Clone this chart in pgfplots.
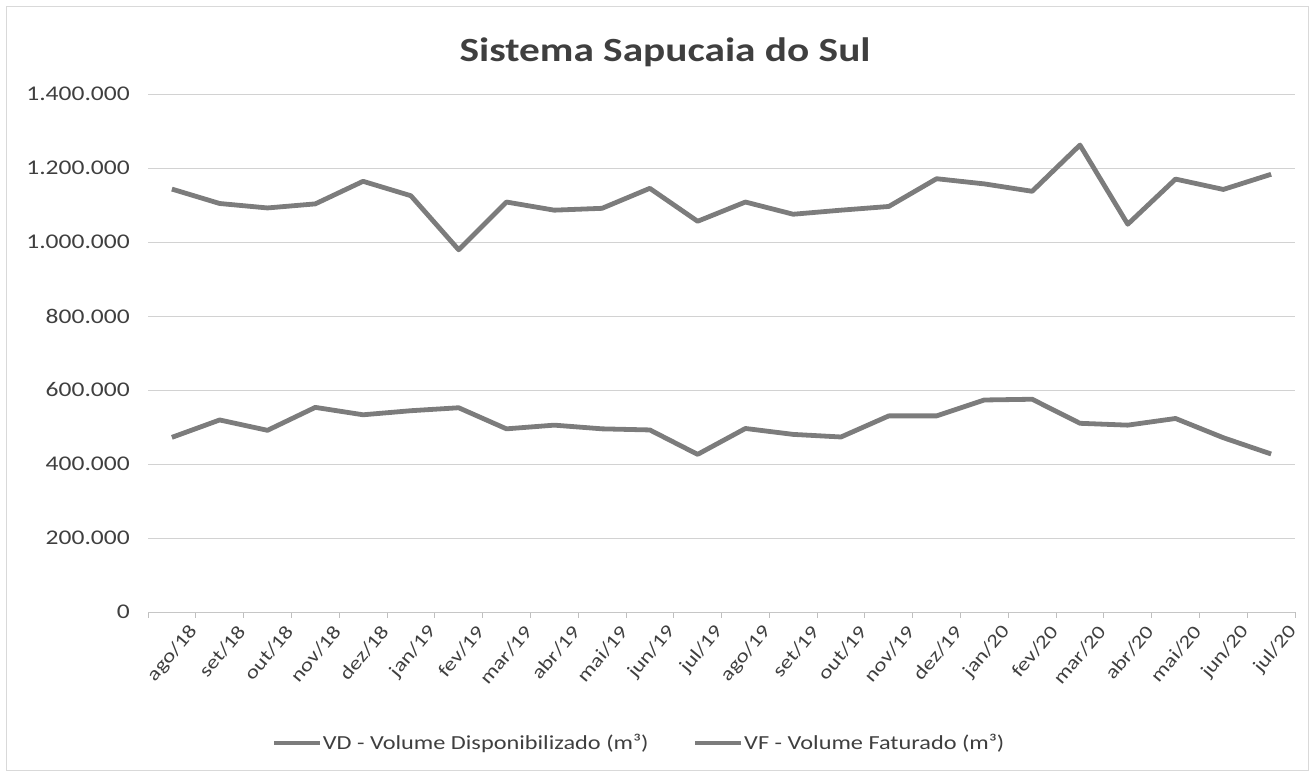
\documentclass[border=0pt]{standalone}
\usepackage{fontspec}
\setmainfont{Carlito}[FakeStretch=1.22]
\usepackage{pgfplots}
\usepackage{pgfplotstable}
\pgfplotsset{compat=1.18}
\definecolor{serie}{HTML}{7C7C7C}
\definecolor{gridc}{HTML}{D2D2D2}
\definecolor{txt}{HTML}{3F3F3F}
\pgfplotstableread{
idx vd vf
0 1143000 472000
1 1104000 519000
2 1092000 491000
3 1103000 553000
4 1164000 533000
5 1125000 544000
6 979000 552000
7 1108000 495000
8 1086000 505000
9 1091000 495000
10 1145000 492000
11 1056000 426000
12 1108000 496000
13 1075000 480000
14 1086000 473000
15 1096000 530000
16 1171000 530000
17 1157000 573000
18 1137000 575000
19 1262000 510000
20 1048000 505000
21 1170000 523000
22 1142000 471000
23 1183000 427000
}\datatable
\begin{document}
\begin{tikzpicture}[x=1bp,y=1bp]
\useasboundingbox (0,0) rectangle (1314,776);
\draw[gray!30, line width=0.8bp] (6,6) rectangle (1308,770);
\node[anchor=base, font=\fontsize{34}{40}\selectfont\bfseries, text=txt] at (665,714) {Sistema Sapucaia do Sul};
\begin{axis}[
  at={(148bp,164bp)}, anchor=south west,
  scale only axis, width=1147bp, height=518bp,
  xmin=-0.5, xmax=23.5, ymin=0, ymax=1400000,
  axis lines*=left,
  x axis line style={draw=gray!45, line width=0.8bp, -},
  y axis line style={draw=none},
  xtick={0,...,23},
  xticklabels={ago/18,set/18,out/18,nov/18,dez/18,jan/19,fev/19,mar/19,abr/19,mai/19,jun/19,jul/19,ago/19,set/19,out/19,nov/19,dez/19,jan/20,fev/20,mar/20,abr/20,mai/20,jun/20,jul/20},
  minor xtick={-0.5,0.5,...,23.5},
  major tick length=0pt, minor tick length=6bp,
  tick align=outside,
  minor x tick style={draw=gray!50, line width=0.8bp},
  ytick={0,200000,400000,600000,800000,1000000,1200000,1400000},
  yticklabels={0,200.000,400.000,600.000,800.000,1.000.000,1.200.000,1.400.000},
  scaled y ticks=false,
  ymajorgrids, grid style={draw=gridc, line width=0.8bp},
  yticklabel style={font=\fontsize{21}{24}\selectfont, text=txt, anchor=east, inner sep=0pt, xshift=-18bp},
  xticklabel style={font=\fontsize{19}{22}\selectfont, text=txt, inner sep=0pt, xshift=22bp, yshift=-16bp, rotate=50, anchor=east},
  legend style={at={(0.428,-0.253)}, anchor=center, draw=none, fill=none,
    legend columns=2, font=\fontsize{20}{24}\selectfont, text=txt,
    /tikz/every even column/.append style={column sep=44bp},
    nodes={inner sep=1bp}},
  legend image code/.code={\draw[#1, line width=3.5bp] (0bp,0bp) -- (46bp,0bp);},
  clip=false,
]
\addplot[serie, line width=4.8bp, line join=round] table[x=idx, y=vd] {\datatable};
\addlegendentry{VD - Volume Disponibilizado (m³)}
\addplot[serie, line width=4.8bp, line join=round] table[x=idx, y=vf] {\datatable};
\addlegendentry{VF - Volume Faturado (m³)}
\end{axis}
\end{tikzpicture}
\end{document}
